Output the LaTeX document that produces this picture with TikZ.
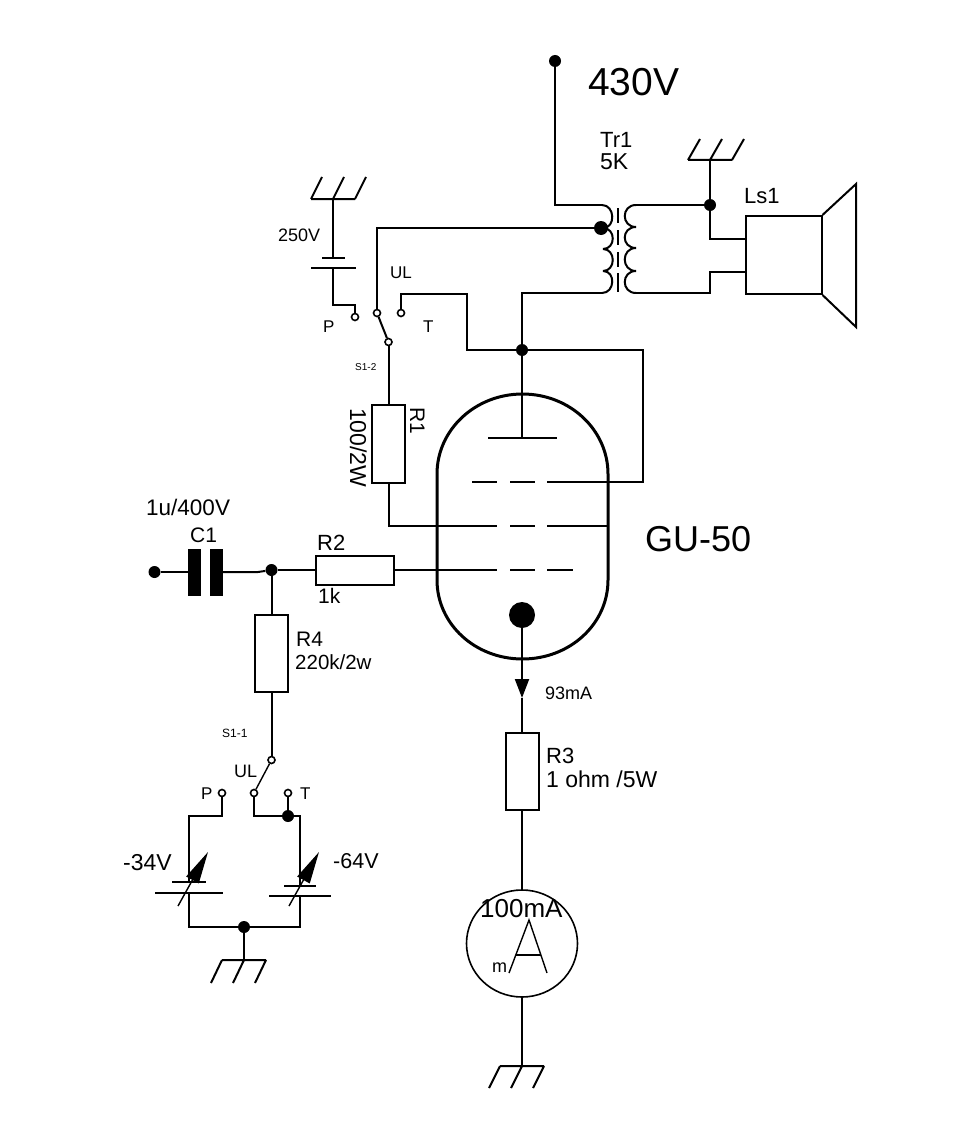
\documentclass[tikz,border=0pt]{standalone}
\usepackage{fontspec}
\setmainfont{Liberation Sans}
\usetikzlibrary{arrows.meta,shapes.geometric}
\newcommand{\fs}[1]{\fontsize{#1}{#1}\selectfont}

\begin{document}
\begin{tikzpicture}[x=1pt,y=-1pt]
   \tikzstyle{wire}=[draw,line width=2pt,line join=miter]
   \tikzstyle{thin wire}=[draw,line width=1.4pt]
   \tikzstyle{dot}=[circle,fill=black,inner sep=0pt,minimum size=12pt]
   \tikzstyle{term}=[circle,draw,fill=white,line width=1.6pt,inner sep=0pt,minimum size=7pt]
   \tikzstyle{res}=[rectangle,draw,line width=2pt,inner sep=0pt]
   \tikzstyle{lab}=[inner sep=0pt,anchor=base west]
   \useasboundingbox (0,0) rectangle (961,1142);
   % supply and transformer
   \node (vcc) [dot] at (555,61) {} ;
   \coordinate (pa) at (602,205) ;
   \coordinate (pb) at (603,228) ;
   \coordinate (pc) at (603,249) ;
   \coordinate (pd) at (603,271) ;
   \coordinate (pe) at (602,293) ;
   \coordinate (sa) at (636,205) ;
   \coordinate (sb) at (636,227) ;
   \coordinate (sc) at (636,248) ;
   \coordinate (sd) at (636,271) ;
   \coordinate (se) at (636,293) ;
   \foreach \a/\b in {pa/pb,pb/pc,pc/pd,pd/pe}
      \path [wire] (\a) .. controls +(13,0) and +(13,0) .. (\b) ;
   \foreach \a/\b in {sa/sb,sb/sc,sc/sd,sd/se}
      \path [wire] (\a) .. controls +(-15,0) and +(-15,0) .. (\b) ;
   \foreach \a/\b in {208/223,230/245,252/267,273/292}
      \path [wire] (618,\a) -- (618,\b) ;
   \path [wire] (vcc) |- (pa) ;
   \node (tap) [dot,minimum size=14pt] at (601,228) {} ;
   % speaker
   \node (ls) [res,minimum width=76pt,minimum height=78pt] at (783.5,255) {} ;
   \path [wire] (ls.north east) -- (856,184) -- (856,327) -- (ls.south east) ;
   \node (jt) [dot] at (710,205) {} ;
   \coordinate (gndT) at (710,160) ;
   \coordinate (lsa) at (ls.west |- 0,239) ;
   \coordinate (lsb) at (ls.west |- 0,272) ;
   \path [wire] (sa) -- (jt) ;
   \path [wire] (gndT) -- (jt) ;
   \path [wire] (jt) |- (lsa) ;
   \path [wire] (se) -| (710,272) -- (lsb) ;
   % screen switch
   \coordinate (gndC) at (333,199) ;
   \node (capa) [inner sep=0pt] at (333,258) {} ;
   \node (capb) [inner sep=0pt] at (333,268) {} ;
   \path [wire] (311,268) -- (356,268) ;
   \path [wire] (322,258) -- (345,258) ;
   \node (swp) [term] at (355,317) {} ;
   \node (swu) [term] at (377,313) {} ;
   \node (swt) [term] at (401,313) {} ;
   \node (swc) [term] at (388.5,342) {} ;
   \path [wire] (gndC) -- (capa) ;
   \path [wire] (capb) -- (333,305) -| (swp) ;
   \path [wire] (tap) -| (swu) ;
   \path [wire] (swu) -- (swc) ;
   \node (ja) [dot] at (522,350) {} ;
   \path [wire] (swt) |- (467,294) |- (ja) ;
   \path [wire] (pe) -| (ja) ;
   % tube
   \path [draw,line width=3pt] (437,474) .. controls (437,430) and (475,394) .. (522.5,394)
      .. controls (570,394) and (608,430) .. (608,474) -- (608,580)
      .. controls (608,624) and (570,659) .. (522.5,659)
      .. controls (475,659) and (437,624) .. (437,580) -- cycle ;
   \coordinate (plate) at (522,438) ;
   \path [wire] (ja) -- (plate) ;
   \path [wire] (488,438) -- (557,438) ;
   \node (cath) [dot,minimum size=26pt] at (522,615) {} ;
   \foreach \y in {482,526,570} {
      \path [wire] (472,\y) -- (497,\y) ;
      \path [wire] (510,\y) -- (535,\y) ;
      \path [wire] (547,\y) -- (573,\y) ;
   }
   \path [wire] (573,482) -- (643,482) |- (ja) ;
   \path [wire] (573,526) -- (607,526) ;
   \node (r1) [res,minimum width=33pt,minimum height=78pt] at (388.5,444) {} ;
   \path [wire] (swc) -- (r1) ;
   \path [wire] (r1) |- (472,526) ;
   % input
   \node (in) [dot] at (154.5,572) {} ;
   \node (c1a) [rectangle,fill=black,inner sep=0pt,minimum width=13pt,minimum height=47pt] at (194.5,572) {} ;
   \node (c1b) [rectangle,fill=black,inner sep=0pt,minimum width=13pt,minimum height=47pt] at (216.5,572) {} ;
   \node (ji) [dot] at (271.5,570) {} ;
   \node (r2) [res,minimum width=78pt,minimum height=29pt] at (355,570) {} ;
   \node (r4) [res,minimum width=33pt,minimum height=77pt] at (271.5,653.5) {} ;
   \path [wire] (in) -- (c1a) ;
   \path [wire] (c1b) -- (258,572) -- (ji) ;
   \path [wire] (ji) -- (r2) ;
   \path [wire] (ji) -- (r4) ;
   \path [wire] (r2) -- (472,570) ;
   % bias switch
   \node (bc) [term] at (271.5,760) {} ;
   \node (bu) [term] at (254,793) {} ;
   \node (bp) [term] at (222,793) {} ;
   \node (bt) [term] at (288,793) {} ;
   \node (jb) [dot] at (288,816) {} ;
   \node (jg) [dot] at (244,927) {} ;
   \coordinate (gndB) at (244,960) ;
   \path [wire] (r4) -- (bc) ;
   \path [thin wire] (bc) -- (bu) ;
   \path [wire] (bt) -- (jb) ;
   \path [wire] (bu) |- (jb) ;
   \path [wire] (jb) -| (300,886) ;
   \path [wire] (bp) |- (189,816) -- (189,882) ;
   \path [wire] (189,893) |- (jg) ;
   \path [wire] (300,896) |- (jg) ;
   \path [wire] (jg) -- (gndB) ;
   \path [wire] (172,882) -- (206,882) ;
   \path [wire] (155,893) -- (223,893) ;
   \path [wire] (284,886) -- (316,886) ;
   \path [wire] (269,896) -- (331,896) ;
   \path [thin wire,-{Triangle[length=32pt,width=14pt]}] (178,906) -- (208,852) ;
   \path [thin wire,-{Triangle[length=32pt,width=14pt]}] (289,906) -- (319,852) ;
   % cathode and meter
   \coordinate (tip) at (522,698) ;
   \node (r3) [res,minimum width=33pt,minimum height=77pt] at (522,771.5) {} ;
   \node (meter) [ellipse,draw,line width=1.6pt,inner sep=0pt,minimum width=111pt,minimum height=107pt] at (522,943.5) {} ;
   \coordinate (gndM) at (522,1066) ;
   \path [wire,-{Triangle[length=19pt,width=14pt]}] (cath) -- (tip) ;
   \path [wire] (tip) -- (r3) ;
   \path [wire] (r3) -- (meter) ;
   \path [wire] (meter) -- (gndM) ;
   \path [thin wire] (509,973) -- (529,920) -- (547,973) ;
   \path [thin wire] (516,955) -- (541,955) ;
   % grounds
   \foreach \g/\hx/\hy/\w in {gndT/12/-21/22,gndC/11/-22/22,gndB/-11/23/22,gndM/-11/22/22}
      \path [wire,shift={(\g)}] (-\w,0) -- (\w,0)
         (-\w,0) -- +(\hx,\hy) (0,0) -- +(\hx,\hy) (\w,0) -- +(\hx,\hy) ;
   % labels
   \node (t430) [lab,font=\fs{39}] at (588,96) {430V} ;
   \node (ttr) [lab,font=\fs{22}] at (600,148) {Tr1} ;
   \node (t5k) [lab,font=\fs{23}] at (600,170) {5K} ;
   \node (tls) [lab,font=\fs{22}] at (744,204) {Ls1} ;
   \node (t250) [lab,font=\fs{18}] at (278,241) {250V} ;
   \node (tula) [lab,font=\fs{17}] at (390,278) {UL} ;
   \node (tpa) [lab,font=\fs{17}] at (323,332) {P} ;
   \node (tta) [lab,font=\fs{17}] at (423,332) {T} ;
   \node (ts12) [lab,font=\fs{10}] at (355,370) {S1-2} ;
   \node (tr1) [lab,font=\fs{21},rotate=-90] at (410,407) {R1} ;
   \node (t100) [lab,font=\fs{23},rotate=-90] at (350,408) {100/2W} ;
   \node (tcap) [lab,font=\fs{22.5}] at (146,515) {1u/400V} ;
   \node (tc1) [lab,font=\fs{21}] at (190,542) {C1} ;
   \node (tr2) [lab,font=\fs{22}] at (317,550) {R2} ;
   \node (t1k) [lab,font=\fs{21}] at (318,603) {1k} ;
   \node (tr4) [lab,font=\fs{21}] at (296,646) {R4} ;
   \node (t220) [lab,font=\fs{20.5}] at (295,669) {220k/2w} ;
   \node (tgu) [lab,font=\fs{36}] at (645,551) {GU-50} ;
   \node (t93) [lab,font=\fs{18}] at (545,699) {93mA} ;
   \node (tr3) [lab,font=\fs{22}] at (546,763) {R3} ;
   \node (tohm) [lab,font=\fs{23}] at (546,787) {1 ohm /5W} ;
   \node (tma) [lab,font=\fs{26}] at (480,917) {100mA} ;
   \node (tm) [lab,font=\fs{18}] at (492,972) {m} ;
   \node (ts11) [lab,font=\fs{12}] at (222,737) {S1-1} ;
   \node (tulb) [lab,font=\fs{18}] at (234,777) {UL} ;
   \node (tpb) [lab,font=\fs{17}] at (201,799) {P} ;
   \node (ttb) [lab,font=\fs{17}] at (300,799) {T} ;
   \node (t34) [lab,font=\fs{23}] at (123,870) {-34V} ;
   \node (t64) [lab,font=\fs{21.5}] at (333,868) {-64V} ;
\end{tikzpicture}
\end{document}
